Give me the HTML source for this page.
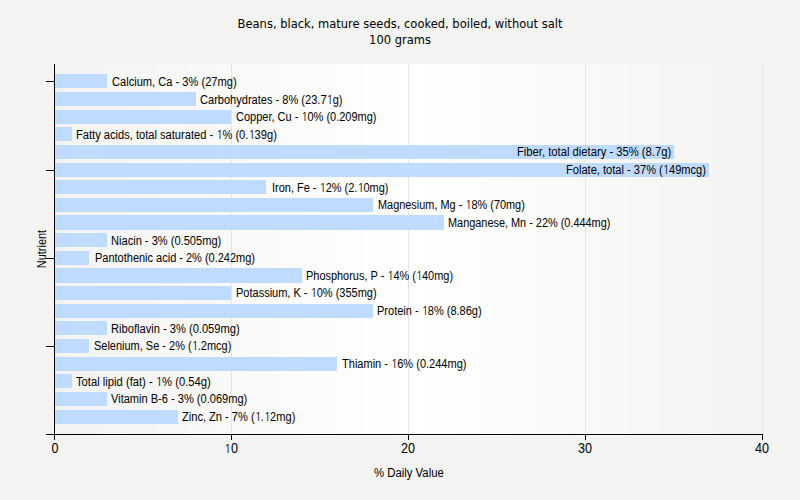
<!DOCTYPE html>
<html><head><meta charset="utf-8"><style>
html,body{margin:0;padding:0;}
body{width:800px;height:500px;position:relative;overflow:hidden;background:#f3f3f1;font-family:"Liberation Sans",Arial,sans-serif;color:#000;}
.t{position:absolute;left:0;width:800px;text-align:center;font-family:"DejaVu Sans","Liberation Sans",sans-serif;font-size:11.5px;line-height:1;white-space:nowrap;}
#plot{position:absolute;left:54px;top:64px;width:709px;height:372px;background:linear-gradient(to right,#f3f3f1 0%,#ffffff 50%,#f3f3f1 100%);}
#plot i{position:absolute;top:0;height:372px;display:block;}
.grid{position:absolute;top:64px;height:370px;width:1px;background:#e4e4e4;}
.bar{position:absolute;left:55px;background:#bfdbff;}
.lab{position:absolute;font-size:12px;line-height:1;white-space:nowrap;transform:translateY(-50%) scaleX(0.925);transform-origin:0 50%;}
.d1{font-family:"NanumGothic",sans-serif;line-height:0;letter-spacing:-0.05em;}
.xl .d1{font-size:0.95em;letter-spacing:-0.02em;}
.lab.in{transform-origin:100% 50%;}
#yaxis{position:absolute;left:54px;top:64px;width:1px;height:371px;background:#000;}
#xaxis{position:absolute;left:46px;top:434px;width:717px;height:1px;background:#000;}
.yt{position:absolute;left:46px;width:8px;height:1px;background:#000;}
.xt{position:absolute;top:434px;width:1px;height:6px;background:#000;}
.xl{position:absolute;top:441.0px;font-size:14px;line-height:1;white-space:nowrap;transform:translateX(-50%) scaleX(0.9);}
#xtitle{position:absolute;left:0.5px;width:816px;text-align:center;top:466.8px;font-size:12px;line-height:1;white-space:nowrap;}
#xtitle span{display:inline-block;transform:scaleX(0.945);}
#ytitle{position:absolute;left:41.5px;top:249.2px;font-size:12px;line-height:1;white-space:nowrap;transform:translate(-50%,-50%) rotate(-90deg) scaleX(0.912);}
</style></head><body>
<div class="t" style="top:19.2px">Beans, black, mature seeds, cooked, boiled, without salt</div>
<div class="t" style="top:35.2px;left:0px">100 grams</div>
<div id="plot"><i style="left:0px;width:13px;background:#f3f3f1"></i><i style="left:13px;width:2px;background:#f3f3f2"></i><i style="left:15px;width:23px;background:#f4f4f2"></i><i style="left:38px;width:7px;background:#f4f4f3"></i><i style="left:45px;width:19px;background:#f5f5f3"></i><i style="left:64px;width:10px;background:#f5f5f4"></i><i style="left:74px;width:15px;background:#f6f6f4"></i><i style="left:89px;width:15px;background:#f6f6f5"></i><i style="left:104px;width:10px;background:#f7f7f5"></i><i style="left:114px;width:19px;background:#f7f7f6"></i><i style="left:133px;width:7px;background:#f8f8f6"></i><i style="left:140px;width:23px;background:#f8f8f7"></i><i style="left:163px;width:2px;background:#f9f9f7"></i><i style="left:165px;width:25px;background:#f9f9f8"></i><i style="left:190px;width:2px;background:#f9f9f9"></i><i style="left:192px;width:23px;background:#fafaf9"></i><i style="left:215px;width:7px;background:#fafafa"></i><i style="left:222px;width:19px;background:#fbfbfa"></i><i style="left:241px;width:10px;background:#fbfbfb"></i><i style="left:251px;width:15px;background:#fcfcfb"></i><i style="left:266px;width:15px;background:#fcfcfc"></i><i style="left:281px;width:10px;background:#fdfdfc"></i><i style="left:291px;width:19px;background:#fdfdfd"></i><i style="left:310px;width:7px;background:#fefefd"></i><i style="left:317px;width:23px;background:#fefefe"></i><i style="left:340px;width:2px;background:#fffffe"></i><i style="left:342px;width:25px;background:#ffffff"></i><i style="left:367px;width:2px;background:#fffffe"></i><i style="left:369px;width:23px;background:#fefefe"></i><i style="left:392px;width:7px;background:#fefefd"></i><i style="left:399px;width:19px;background:#fdfdfd"></i><i style="left:418px;width:10px;background:#fdfdfc"></i><i style="left:428px;width:15px;background:#fcfcfc"></i><i style="left:443px;width:15px;background:#fcfcfb"></i><i style="left:458px;width:10px;background:#fbfbfb"></i><i style="left:468px;width:19px;background:#fbfbfa"></i><i style="left:487px;width:7px;background:#fafafa"></i><i style="left:494px;width:23px;background:#fafaf9"></i><i style="left:517px;width:2px;background:#f9f9f9"></i><i style="left:519px;width:25px;background:#f9f9f8"></i><i style="left:544px;width:2px;background:#f9f9f7"></i><i style="left:546px;width:23px;background:#f8f8f7"></i><i style="left:569px;width:7px;background:#f8f8f6"></i><i style="left:576px;width:19px;background:#f7f7f6"></i><i style="left:595px;width:10px;background:#f7f7f5"></i><i style="left:605px;width:15px;background:#f6f6f5"></i><i style="left:620px;width:15px;background:#f6f6f4"></i><i style="left:635px;width:10px;background:#f5f5f4"></i><i style="left:645px;width:19px;background:#f5f5f3"></i><i style="left:664px;width:7px;background:#f4f4f3"></i><i style="left:671px;width:23px;background:#f4f4f2"></i><i style="left:694px;width:2px;background:#f3f3f2"></i><i style="left:696px;width:13px;background:#f3f3f1"></i></div>
<div class="grid" style="left:231px"></div>
<div class="grid" style="left:408px"></div>
<div class="grid" style="left:585px"></div>
<div class="grid" style="left:762px"></div>
<div class="bar" style="top:74px;height:14px;width:52px"></div>
<div class="lab" style="top:81.90px;left:112.42px;transform:translateY(-50%) scaleX(0.9250)">Calcium, Ca - 3% (27mg)</div>
<div class="bar" style="top:92px;height:14px;width:141px"></div>
<div class="lab" style="top:99.53px;left:199.61px;transform:translateY(-50%) scaleX(0.9209)">Carbohydrates - 8% (23.7<span class="d1">1</span>g)</div>
<div class="bar" style="top:110px;height:14px;width:176px"></div>
<div class="lab" style="top:117.16px;left:236.00px;transform:translateY(-50%) scaleX(0.9156)">Copper, Cu - <span class="d1">1</span>0% (0.209mg)</div>
<div class="bar" style="top:127px;height:14px;width:17px"></div>
<div class="lab" style="top:134.79px;left:76.18px;transform:translateY(-50%) scaleX(0.9263)">Fatty acids, total saturated - <span class="d1">1</span>% (0.<span class="d1">1</span>39g)</div>
<div class="bar" style="top:145px;height:14px;width:619px"></div>
<div class="lab" style="top:152.42px;left:516.73px;transform:translateY(-50%) scaleX(0.9360)">Fiber, total dietary - 35% (8.7g)</div>
<div class="bar" style="top:163px;height:14px;width:654px"></div>
<div class="lab" style="top:170.05px;left:566.34px;transform:translateY(-50%) scaleX(0.9244)">Folate, total - 37% (<span class="d1">1</span>49mcg)</div>
<div class="bar" style="top:180px;height:14px;width:211px"></div>
<div class="lab" style="top:187.68px;left:271.62px;transform:translateY(-50%) scaleX(0.9142)">Iron, Fe - <span class="d1">1</span>2% (2.<span class="d1">1</span>0mg)</div>
<div class="bar" style="top:198px;height:14px;width:318px"></div>
<div class="lab" style="top:205.31px;left:377.74px;transform:translateY(-50%) scaleX(0.9096)">Magnesium, Mg - <span class="d1">1</span>8% (70mg)</div>
<div class="bar" style="top:215px;height:15px;width:389px"></div>
<div class="lab" style="top:222.94px;left:448.33px;transform:translateY(-50%) scaleX(0.9082)">Manganese, Mn - 22% (0.444mg)</div>
<div class="bar" style="top:233px;height:14px;width:52px"></div>
<div class="lab" style="top:240.57px;left:111.38px;transform:translateY(-50%) scaleX(0.9235)">Niacin - 3% (0.505mg)</div>
<div class="bar" style="top:251px;height:14px;width:34px"></div>
<div class="lab" style="top:258.20px;left:94.79px;transform:translateY(-50%) scaleX(0.9156)">Pantothenic acid - 2% (0.242mg)</div>
<div class="bar" style="top:268px;height:15px;width:247px"></div>
<div class="lab" style="top:275.83px;left:306.36px;transform:translateY(-50%) scaleX(0.9120)">Phosphorus, P - <span class="d1">1</span>4% (<span class="d1">1</span>40mg)</div>
<div class="bar" style="top:286px;height:14px;width:176px"></div>
<div class="lab" style="top:293.46px;left:236.37px;transform:translateY(-50%) scaleX(0.9166)">Potassium, K - <span class="d1">1</span>0% (355mg)</div>
<div class="bar" style="top:304px;height:14px;width:318px"></div>
<div class="lab" style="top:311.09px;left:376.94px;transform:translateY(-50%) scaleX(0.9172)">Protein - <span class="d1">1</span>8% (8.86g)</div>
<div class="bar" style="top:321px;height:14px;width:52px"></div>
<div class="lab" style="top:328.72px;left:111.38px;transform:translateY(-50%) scaleX(0.9275)">Riboflavin - 3% (0.059mg)</div>
<div class="bar" style="top:339px;height:14px;width:34px"></div>
<div class="lab" style="top:346.35px;left:93.74px;transform:translateY(-50%) scaleX(0.9148)">Selenium, Se - 2% (<span class="d1">1</span>.2mcg)</div>
<div class="bar" style="top:357px;height:14px;width:282px"></div>
<div class="lab" style="top:363.98px;left:341.75px;transform:translateY(-50%) scaleX(0.9195)">Thiamin - <span class="d1">1</span>6% (0.244mg)</div>
<div class="bar" style="top:374px;height:14px;width:17px"></div>
<div class="lab" style="top:381.61px;left:75.76px;transform:translateY(-50%) scaleX(0.9350)">Total lipid (fat) - <span class="d1">1</span>% (0.54g)</div>
<div class="bar" style="top:392px;height:14px;width:52px"></div>
<div class="lab" style="top:399.24px;left:111.28px;transform:translateY(-50%) scaleX(0.9215)">Vitamin B-6 - 3% (0.069mg)</div>
<div class="bar" style="top:410px;height:14px;width:123px"></div>
<div class="lab" style="top:416.87px;left:182.00px;transform:translateY(-50%) scaleX(0.9235)">Zinc, Zn - 7% (<span class="d1">1</span>.<span class="d1">1</span>2mg)</div>
<div id="yaxis"></div>
<div id="xaxis"></div>
<div class="yt" style="top:81px"></div>
<div class="yt" style="top:170px"></div>
<div class="yt" style="top:258px"></div>
<div class="yt" style="top:346px"></div>
<div class="yt" style="top:434px"></div>
<div class="xt" style="left:54px"></div>
<div class="xt" style="left:231px"></div>
<div class="xt" style="left:408px"></div>
<div class="xt" style="left:585px"></div>
<div class="xt" style="left:762px"></div>
<div class="xl" style="left:54.75px">0</div>
<div class="xl" style="left:230.75px"><span class="d1">1</span>0</div>
<div class="xl" style="left:407.75px">20</div>
<div class="xl" style="left:584.75px">30</div>
<div class="xl" style="left:761.75px">40</div>
<div id="xtitle"><span>% Daily Value</span></div>
<div id="ytitle">Nutrient</div>
</body></html>
